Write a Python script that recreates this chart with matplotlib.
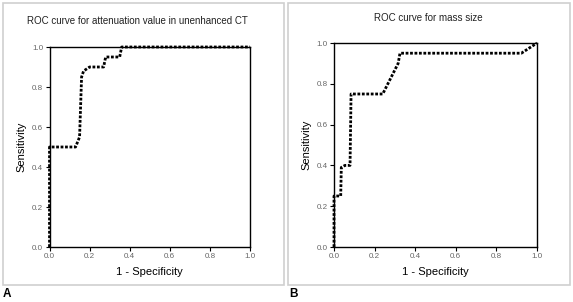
import matplotlib
matplotlib.use("Agg")
import matplotlib.pyplot as plt
from matplotlib.patches import Rectangle

# ROC curve points (1 - specificity, sensitivity)
fpr_a = [0.0, 0.0, 0.13, 0.15, 0.16, 0.17, 0.20, 0.27, 0.28, 0.35, 0.36, 1.0]
tpr_a = [0.0, 0.50, 0.50, 0.55, 0.85, 0.88, 0.90, 0.90, 0.95, 0.95, 1.0, 1.0]

fpr_b = [0.0, 0.0, 0.013, 0.033, 0.036, 0.054, 0.079, 0.084, 0.24, 0.316, 0.325, 0.923, 1.0]
tpr_b = [0.0, 0.25, 0.25, 0.25, 0.39, 0.40, 0.40, 0.75, 0.75, 0.90, 0.95, 0.95, 1.0]

titles = ["ROC curve for attenuation value in unenhanced CT", "ROC curve for mass size"]
panel_letters = ["A", "B"]
ticks = [0.0, 0.2, 0.4, 0.6, 0.8, 1.0]

W, H = 573, 302
plt.rcParams['font.family'] = ['Liberation Sans', 'DejaVu Sans']
fig = plt.figure(figsize=(W / 100, H / 100), dpi=100)

# pixel layout: axes boxes and panel frames
axes_px = [(49.5, 47, 250, 247), (334, 43, 537, 247)]
frames_px = [(3, 3, 284, 285), (288, 3, 570, 285)]
title_px = [(137, 21), (428, 18)]
letter_px = [(3, 294), (289, 294)]

for i, (fpr, tpr) in enumerate([(fpr_a, tpr_a), (fpr_b, tpr_b)]):
    x0, y0, x1, y1 = frames_px[i]
    fig.add_artist(Rectangle((x0 / W, 1 - y1 / H), (x1 - x0) / W, (y1 - y0) / H,
                             transform=fig.transFigure, fill=False,
                             edgecolor='#cfcfcf', linewidth=1.2))
    l, t, r, b = axes_px[i]
    ax = fig.add_axes([l / W, 1 - b / H, (r - l) / W, (b - t) / H])
    ax.plot(fpr, tpr, color='black', linewidth=2.0, linestyle=(0, (1.0, 0.6)),
            dash_capstyle='butt', clip_on=False, zorder=5)
    ax.set_xlim(0, 1)
    ax.set_ylim(0, 1)
    ax.set_xticks(ticks)
    ax.set_yticks(ticks)
    ax.set_xticklabels([f"{v:.1f}" for v in ticks])
    ax.set_yticklabels([f"{v:.1f}" for v in ticks])
    ax.tick_params(direction='out', length=3, width=0.8, labelsize=5.8,
                   labelcolor='#666666', pad=1.5)
    for s in ax.spines.values():
        s.set_linewidth(1.0)
    ax.set_xlabel("1 - Specificity", fontsize=8, labelpad=5)
    ax.set_ylabel("Sensitivity", fontsize=8, labelpad=4)
    tx, ty = title_px[i]
    fig.text(tx / W, 1 - ty / H, titles[i], ha='center', va='center',
             fontsize=7, color='#222222')
    lx, ly = letter_px[i]
    fig.text(lx / W, 1 - ly / H, panel_letters[i], ha='left', va='center',
             fontsize=8.5, fontweight='bold')

fig.savefig("out.png", dpi=100)
